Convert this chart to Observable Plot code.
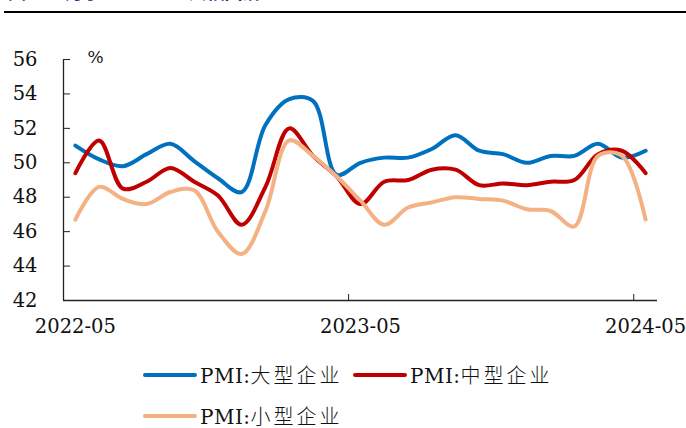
<!DOCTYPE html>
<html>
<head>
<meta charset="utf-8">
<script src="https://cdn.jsdelivr.net/npm/d3@7"></script>
<script src="https://cdn.jsdelivr.net/npm/@observablehq/plot@0.6"></script>
<style>
  html, body { margin: 0; padding: 0; background: #fff; }
  #wrap { position: relative; width: 686px; height: 428px; overflow: hidden; background: #fff; }
  #title { position: absolute; left: 8px; top: -18px; font: bold 18px/18px "Noto Sans CJK SC", sans-serif; color: #1c2a8a; white-space: nowrap; }
  #rule { position: absolute; left: 4px; right: 0; top: 11px; height: 2px; background: #000; }
  #chart { position: absolute; left: 0; top: 0; }
  .item { position: absolute; display: flex; align-items: center; height: 22px; }
  .swatch { width: 54px; height: 4px; border-radius: 2px; margin-right: 3px; }
  .label { font-size: 20px; line-height: 22px; color: #111; white-space: nowrap; letter-spacing: 3px; }
  .label .lat { font-family: "DejaVu Serif", serif; letter-spacing: 0.5px; }
  .label .cjk { font-family: "Noto Sans CJK SC", sans-serif; font-weight: 300; }
</style>
</head>
<body>
<div id="wrap">
  <div id="title">图3：5月小型企业PMI大幅回落</div>
  <div id="rule"></div>
  <div id="chart"></div>
  <div id="legend"></div>
</div>
<script>
// Monthly PMI by enterprise size, %
const months = [
  "2022-05","2022-06","2022-07","2022-08","2022-09","2022-10","2022-11","2022-12",
  "2023-01","2023-02","2023-03","2023-04","2023-05","2023-06","2023-07","2023-08",
  "2023-09","2023-10","2023-11","2023-12","2024-01","2024-02","2024-03","2024-04","2024-05"
];
const large  = [51.0, 50.2, 49.8, 50.5, 51.1, 50.1, 49.1, 48.3, 52.2, 53.7, 53.6, 49.3, 50.0,
                50.3, 50.3, 50.8, 51.6, 50.7, 50.5, 50.0, 50.4, 50.4, 51.1, 50.3, 50.7];
const medium = [49.4, 51.3, 48.5, 48.9, 49.7, 48.9, 48.1, 46.4, 48.6, 52.0, 50.4, 49.2, 47.6,
                48.9, 49.0, 49.6, 49.6, 48.7, 48.8, 48.7, 48.9, 49.0, 50.5, 50.7, 49.4];
const small  = [46.7, 48.6, 47.9, 47.6, 48.3, 48.4, 46.0, 44.7, 47.2, 51.3, 50.4, 49.2, 47.8,
                46.4, 47.4, 47.7, 48.0, 47.9, 47.8, 47.3, 47.2, 46.3, 50.4, 50.4, 46.7];

const seriesNames = ["PMI:大型企业", "PMI:中型企业", "PMI:小型企业"];
const seriesColors = ["#0070C0", "#C00000", "#F4B183"];
const seriesValues = [large, medium, small];

const yTicks = [42, 44, 46, 48, 50, 52, 54, 56];
const xLabelIdx = [0, 12, 24];          // labelled months
const xTickIdx = xLabelIdx.map(i => i - 0.5); // tick marks sit on month boundaries

const serif = "DejaVu Serif, serif";

const lineMarks = seriesValues.map((vals, k) =>
  Plot.lineY(vals, {
    x: (d, i) => i,
    y: d => d,
    stroke: seriesColors[k],
    strokeWidth: 4,
    curve: "catmull-rom"
  })
);

const chart = Plot.plot({
  width: 686,
  height: 345,
  marginLeft: 63,
  marginRight: 29,
  marginTop: 59,
  marginBottom: 45,
  style: { background: "transparent", fontFamily: serif, color: "#111" },
  x: { type: "linear", domain: [-0.5, months.length - 0.5] },
  y: { domain: [42, 56] },
  marks: [
    // y labels
    Plot.axisY({ ticks: yTicks, tickSize: 0, tickPadding: 26, label: null,
                 fontSize: 19.5, fontFamily: serif, tickFormat: d => d }),
    // inward y tick marks
    Plot.axisY({ ticks: yTicks, tickSize: 7, dx: 7, text: null, label: null, stroke: "#222" }),
    // x labels
    Plot.axisX({ ticks: xLabelIdx, tickSize: 0, tickPadding: 19, label: null,
                 fontSize: 19.5, fontFamily: serif, tickFormat: i => months[i] }),
    // inward x tick marks on month boundaries
    Plot.axisX({ ticks: xTickIdx, tickSize: 6, dy: -6, text: null, label: null, stroke: "#222" }),
    Plot.ruleY([42], { stroke: "#222", strokeWidth: 1.3 }),
    Plot.ruleX([-0.5], { stroke: "#222", strokeWidth: 1.3 }),
    Plot.text(["%"], { frameAnchor: "top-left", dx: 32, dy: -2, text: d => d,
                       textAnchor: "middle", lineAnchor: "middle", fontSize: 17, fontFamily: serif }),
    ...lineMarks
  ]
});
document.getElementById("chart").appendChild(chart);

// Legend
const legendPos = [
  { left: 143, top: 364 },
  { left: 353, top: 364 },
  { left: 143, top: 405 }
];
const legend = document.getElementById("legend");
seriesNames.forEach((name, k) => {
  const item = document.createElement("div");
  item.className = "item";
  item.style.left = legendPos[k].left + "px";
  item.style.top = legendPos[k].top + "px";
  const sw = document.createElement("div");
  sw.className = "swatch";
  sw.style.background = seriesColors[k];
  const lab = document.createElement("span");
  lab.className = "label";
  const [lat, cjk] = name.split(":");
  lab.innerHTML = `<span class="lat">${lat}:</span><span class="cjk">${cjk}</span>`;
  item.appendChild(sw);
  item.appendChild(lab);
  legend.appendChild(item);
});
</script>
</body>
</html>
